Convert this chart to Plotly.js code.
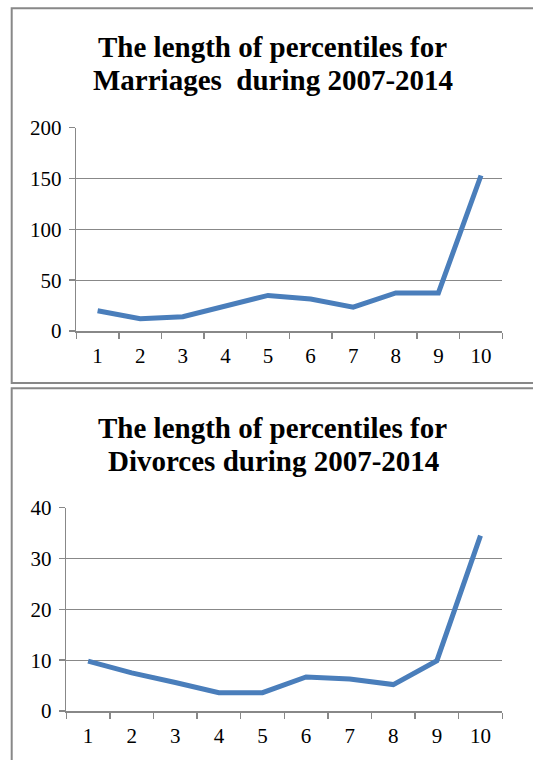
<!DOCTYPE html>
<html>
<head>
<meta charset="utf-8">
<script src="https://cdn.plot.ly/plotly-3.0.1.min.js"></script>
<style>
html,body{margin:0;padding:0;background:#fff;}
#chart{width:533px;height:760px;}
</style>
</head>
<body>
<div id="chart"></div>
<script>
const categories = ["1","2","3","4","5","6","7","8","9","10"];
const marriages = [20, 12, 14, 25, 35, 31.5, 23.5, 37.5, 37.5, 153];
const divorces = [9.8, 7.5, 5.6, 3.6, 3.6, 6.7, 6.3, 5.2, 9.9, 34.5];
const titleMarriages = ["The length of percentiles for", "Marriages  during 2007-2014"];
const titleDivorces = ["The length of percentiles for", "Divorces during 2007-2014"];
const yTicksM = [0, 50, 100, 150, 200];
const yTicksD = [0, 10, 20, 30, 40];

const W = 533, H = 760;
const px = v => v / W;
const py = v => 1 - v / H;

const lineStyle = {color: "#4a7ebb", width: 5};
const traces = [
  {x: categories, y: marriages, type: "scatter", mode: "lines", line: lineStyle, xaxis: "x", yaxis: "y", hoverinfo: "skip"},
  {x: categories, y: divorces, type: "scatter", mode: "lines", line: lineStyle, xaxis: "x2", yaxis: "y2", hoverinfo: "skip"}
];

const tickFont = {family: "Liberation Serif, Times New Roman, serif", size: 21, color: "#000"};
const xBase = {
  type: "category", range: [-0.5, 9.5], showline: true, linecolor: "#888", linewidth: 1.5,
  ticks: "outside", tickson: "boundaries", ticklen: 6, tickcolor: "#888", tickwidth: 1.5,
  showgrid: false, zeroline: false, tickfont: tickFont, ticklabelstandoff: 5, fixedrange: true
};
const yBase = {
  showline: true, linecolor: "#888", linewidth: 1.5, ticks: "outside", ticklen: 6,
  tickcolor: "#888", tickwidth: 1.5, showgrid: true, gridcolor: "#888", gridwidth: 1.3,
  zeroline: false, tickfont: tickFont, ticklabelstandoff: 3, fixedrange: true
};

const titleFont = {family: "Liberation Serif, Times New Roman, serif", size: 29, color: "#000", weight: "bold"};
function titleLine(text, cx, cy) {
  return {text: "<b>" + text + "</b>", xref: "paper", yref: "paper", x: px(cx), y: py(cy),
          xanchor: "center", yanchor: "middle", showarrow: false, font: titleFont};
}

const layout = {
  width: W, height: H,
  margin: {l: 0, r: 0, t: 0, b: 0},
  paper_bgcolor: "#fff", plot_bgcolor: "#fff",
  showlegend: false,
  xaxis: Object.assign({}, xBase, {domain: [px(76.3), px(502.3)], anchor: "y"}),
  yaxis: Object.assign({}, yBase, {domain: [py(331), py(127.7)], range: [0, 200], tickvals: yTicksM, anchor: "x"}),
  xaxis2: Object.assign({}, xBase, {domain: [px(66.3), px(502.3)], anchor: "y2"}),
  yaxis2: Object.assign({}, yBase, {domain: [py(711), py(507.7)], range: [0, 40], tickvals: yTicksD, anchor: "x2"}),
  annotations: [
    titleLine(titleMarriages[0], 272, 47),
    titleLine(titleMarriages[1], 272.5, 79.5),
    titleLine(titleDivorces[0], 272, 427.5),
    titleLine(titleDivorces[1], 273, 461)
  ],
  shapes: [
    {type: "rect", xref: "paper", yref: "paper", x0: px(11.7), x1: px(540), y0: py(383), y1: py(8.3),
     line: {color: "#888", width: 2}, fillcolor: "rgba(0,0,0,0)"},
    {type: "rect", xref: "paper", yref: "paper", x0: px(11.7), x1: px(540), y0: py(770), y1: py(388.3),
     line: {color: "#888", width: 2}, fillcolor: "rgba(0,0,0,0)"}
  ]
};

Plotly.newPlot("chart", traces, layout, {displayModeBar: false, staticPlot: true});
</script>
</body>
</html>
